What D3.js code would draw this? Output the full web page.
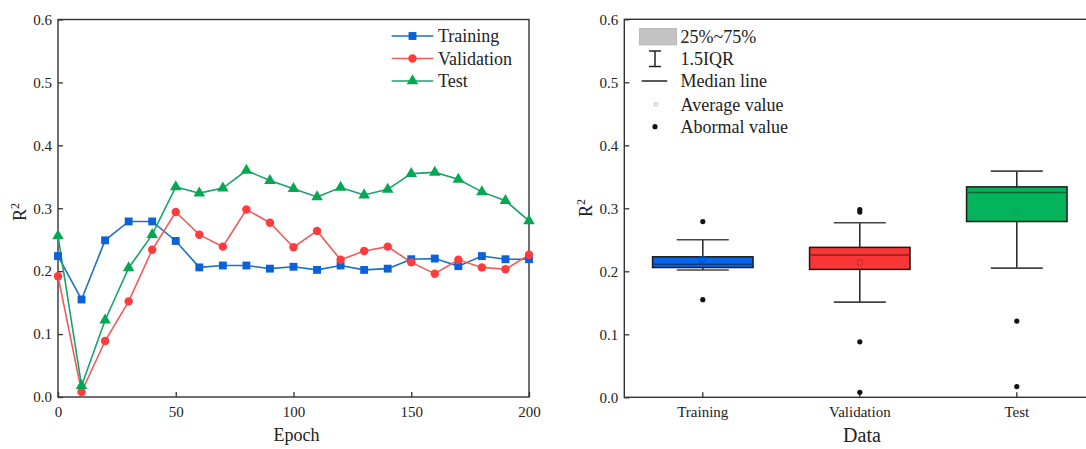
<!DOCTYPE html>
<html><head><meta charset="utf-8">
<script src="https://cdn.jsdelivr.net/npm/d3@7"></script>
<style>body{margin:0;background:#fff}svg{display:block}text{font-family:"Liberation Serif","Times New Roman",serif;fill:#222}</style>
</head><body><svg id="c" width="1086" height="449"></svg>
<script>
// ---- data ----
const epochs = [0,10,20,30,40,50,60,70,80,90,100,110,120,130,140,150,160,170,180,190,200];
const training   = [0.224,0.155,0.249,0.279,0.279,0.248,0.206,0.209,0.209,0.204,0.207,0.202,0.209,0.202,0.204,0.219,0.220,0.208,0.224,0.219,0.219];
const validation = [0.192,0.008,0.089,0.152,0.234,0.294,0.258,0.239,0.298,0.277,0.238,0.264,0.218,0.232,0.239,0.214,0.196,0.218,0.206,0.203,0.226];
const test       = [0.256,0.018,0.122,0.205,0.258,0.334,0.324,0.332,0.360,0.344,0.331,0.318,0.333,0.321,0.330,0.355,0.357,0.346,0.326,0.312,0.280];
const seriesNames = ["Training","Validation","Test"];
const xTicks = [0,50,100,150,200];
const yTicks = [0,0.1,0.2,0.3,0.4,0.5,0.6];
// box plot statistics
const boxCats   = ["Training","Validation","Test"];
const boxQ1     = [0.206,0.203,0.279];
const boxMedian = [0.211,0.226,0.325];
const boxQ3     = [0.223,0.238,0.334];
const boxLow    = [0.202,0.151,0.205];
const boxHigh   = [0.250,0.277,0.359];
const boxMean   = [0.219,0.214,0.293];
const boxOutliers = [[0.279,0.155],[0.294,0.298,0.088,0.008],[0.121,0.017]];
const legendBox = ["25%~75%","1.5IQR","Median line","Average value","Abormal value"];

const svg = d3.select("#c");
svg.append("rect").attr("width",1086).attr("height",449).attr("fill","#fff");
const axisCol = "#333";
const serif = "'Liberation Serif','Times New Roman',serif";

// ---------- LEFT CHART ----------
const L = {l:58, r:529, t:19.5, b:397};
const x = d3.scaleLinear().domain([0,200]).range([L.l,L.r]);
const y = d3.scaleLinear().domain([0,0.6]).range([L.b,L.t]);

function styleAxis(g){
  g.attr("font-family",serif);
  g.select(".domain").remove();
  g.selectAll(".tick line").attr("stroke",axisCol).attr("stroke-width",1.3);
  g.selectAll(".tick text").style("font-family",serif).style("font-size","15px").attr("fill","#222");
}
const gl = svg.append("g");
gl.append("g").attr("transform",`translate(0,${L.b})`)
  .call(d3.axisBottom(x).tickValues(xTicks).tickSize(-5).tickPadding(9).tickFormat(d3.format("d"))).call(styleAxis);
gl.append("g").attr("transform",`translate(${L.l},0)`)
  .call(d3.axisLeft(y).tickValues(yTicks).tickSize(-5).tickPadding(6).tickFormat(d3.format(".1f"))).call(styleAxis);
gl.append("rect").attr("x",L.l).attr("y",L.t).attr("width",L.r-L.l).attr("height",L.b-L.t)
  .attr("fill","none").attr("stroke",axisCol).attr("stroke-width",1.4);

const lineCols = ["#1f6fc2","#f25a5a","#17a36a"];
const markCols = ["#0a62d8","#ff3b3b","#05a852"];
const syms = [d3.symbolSquare, d3.symbolCircle, d3.symbolTriangle];
const symSize = [62, 56, 58];
const allSeries = [training, validation, test];
const line = d3.line().x((d,i)=>x(epochs[i])).y(d=>y(d));
allSeries.forEach((s,k)=>{
  gl.append("path").datum(s).attr("d",line).attr("fill","none").attr("stroke",lineCols[k]).attr("stroke-width",1.6);
});
allSeries.forEach((s,k)=>{
  gl.selectAll(null).data(s).join("path")
    .attr("transform",(d,i)=>`translate(${x(epochs[i])},${y(d)})`)
    .attr("d",d3.symbol(syms[k],symSize[k])).attr("fill",markCols[k]);
});
// legend
const legY = [36,58.5,81];
seriesNames.forEach((n,k)=>{
  const g = gl.append("g");
  g.append("line").attr("x1",391.7).attr("x2",433.3).attr("y1",legY[k]).attr("y2",legY[k]).attr("stroke",lineCols[k]).attr("stroke-width",1.6);
  g.append("path").attr("transform",`translate(412.5,${legY[k]})`).attr("d",d3.symbol(syms[k],symSize[k])).attr("fill",markCols[k]);
  g.append("text").attr("x",438).attr("y",legY[k]).attr("dy","0.35em").style("font-size","18px").text(n);
});
gl.append("text").attr("x",(L.l+L.r)/2+3).attr("y",441).attr("text-anchor","middle").style("font-size","18px").text("Epoch");
const ry1 = gl.append("text").attr("transform","translate(26,212) rotate(-90)").attr("text-anchor","middle").style("font-size","18px");
ry1.append("tspan").text("R");
ry1.append("tspan").attr("baseline-shift","super").style("font-size","12px").text("2");

// ---------- RIGHT CHART ----------
const R = {l:624.3, r:1095.3, t:19.3, b:397.3};
const xb = d3.scaleBand().domain(boxCats).range([R.l,R.r]);
const yb = d3.scaleLinear().domain([0,0.6]).range([R.b,R.t]);
const gr = svg.append("g");
gr.append("g").attr("transform",`translate(0,${R.b})`)
  .call(d3.axisBottom(xb).tickSize(-5).tickPadding(9)).call(styleAxis);
gr.append("g").attr("transform",`translate(${R.l},0)`)
  .call(d3.axisLeft(yb).tickValues(yTicks).tickSize(-5).tickPadding(6).tickFormat(d3.format(".1f"))).call(styleAxis);
gr.append("rect").attr("x",R.l).attr("y",R.t).attr("width",R.r-R.l).attr("height",R.b-R.t)
  .attr("fill","none").attr("stroke",axisCol).attr("stroke-width",1.4);

const boxFill = ["#0466ea","#fb3636","#05b35c"];
const bw = xb.bandwidth()*0.64, cw = 52;
boxCats.forEach((c,i)=>{
  const cx = xb(c)+xb.bandwidth()/2;
  const g = gr.append("g");
  g.append("line").attr("x1",cx).attr("x2",cx).attr("y1",yb(boxHigh[i])).attr("y2",yb(boxLow[i])).attr("stroke","#222").attr("stroke-width",1.5);
  [boxHigh[i],boxLow[i]].forEach(v=>g.append("line").attr("x1",cx-cw/2).attr("x2",cx+cw/2).attr("y1",yb(v)).attr("y2",yb(v)).attr("stroke","#444").attr("stroke-width",1.6));
  g.append("rect").attr("x",cx-bw/2).attr("width",bw).attr("y",yb(boxQ3[i])).attr("height",yb(boxQ1[i])-yb(boxQ3[i]))
    .attr("fill",boxFill[i]).attr("stroke","#1a1a1a").attr("stroke-width",1.5);
  g.append("line").attr("x1",cx-bw/2).attr("x2",cx+bw/2).attr("y1",yb(boxMedian[i])).attr("y2",yb(boxMedian[i]))
    .attr("stroke",d3.color(boxFill[i]).darker(1.6)).attr("stroke-width",1.5);
  g.append("rect").attr("x",cx-2.5).attr("y",yb(boxMean[i])-2.5).attr("width",5).attr("height",5)
    .attr("fill","none").attr("stroke",d3.color(boxFill[i]).darker(i===2?0.15:0.6)).attr("stroke-width",1);
  g.selectAll(null).data(boxOutliers[i]).join("circle")
    .attr("cx",cx).attr("cy",d=>yb(d)).attr("r",2.6).attr("fill","#111");
});
// legend right
const lr = [37,58.7,81,104.3,126.7];
const lg = gr.append("g");
lg.append("rect").attr("x",639.3).attr("y",28.3).attr("width",37.4).attr("height",16.7).attr("fill","#c3c3c3").attr("stroke","#aaa").attr("stroke-width",0.6);
lg.append("line").attr("x1",655).attr("x2",655).attr("y1",51).attr("y2",66.5).attr("stroke","#222").attr("stroke-width",1.5);
[51,66.5].forEach(v=>lg.append("line").attr("x1",649).attr("x2",661).attr("y1",v).attr("y2",v).attr("stroke","#222").attr("stroke-width",1.5));
lg.append("line").attr("x1",641.7).attr("x2",667.3).attr("y1",81).attr("y2",81).attr("stroke","#222").attr("stroke-width",1.5);
lg.append("rect").attr("x",654.5).attr("y",102.8).attr("width",3).attr("height",3).attr("fill","none").attr("stroke","#bbb").attr("stroke-width",0.8);
lg.append("circle").attr("cx",655).attr("cy",126.7).attr("r",2.6).attr("fill","#111");
legendBox.forEach((t,k)=>{
  lg.append("text").attr("x",680.5).attr("y",lr[k]).attr("dy","0.35em").style("font-size","18px").text(t);
});
gr.append("text").attr("x",862).attr("y",442).attr("text-anchor","middle").style("font-size","20px").text("Data");
const ry2 = gr.append("text").attr("transform","translate(592,208) rotate(-90)").attr("text-anchor","middle").style("font-size","18px");
ry2.append("tspan").text("R");
ry2.append("tspan").attr("baseline-shift","super").style("font-size","12px").text("2");
</script></body></html>
